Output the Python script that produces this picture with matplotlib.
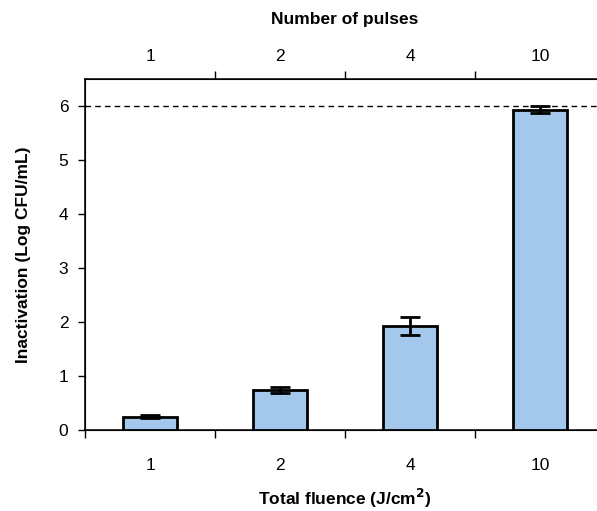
import numpy as np
from matplotlib import pyplot as plt

plt.rcParams['font.family'] = ['Liberation Sans', 'DejaVu Sans']

# data
fluence_labels = ['1', '2', '4', '10']
pulse_labels = ['1', '2', '4', '10']
inactivation = [0.25, 0.74, 1.92, 5.93]
errors = [0.02, 0.06, 0.17, 0.06]
detection_limit = 6

x = np.arange(len(inactivation))
fs = 12.5

fig = plt.figure(figsize=(5.97, 5.11), dpi=100)
ax = fig.add_axes([0.1424, 0.1585, 0.871, 0.687])

ax.bar(x, inactivation, width=0.42, color='#a3c8eb', edgecolor='black',
	linewidth=2, yerr=errors, capsize=7,
	error_kw=dict(elinewidth=2, capthick=2, ecolor='black'), zorder=3)
ax.axhline(detection_limit, color='black', linestyle=(0, (4, 3)), linewidth=1, zorder=2)

ax.set_xlim(-0.5, len(x) - 0.5)
ax.set_ylim(0, 6.5)
ax.set_yticks(range(0, 7))
ax.tick_params(axis='y', direction='out', length=5, width=1, labelsize=fs, pad=7)

ax.set_xticks(x)
ax.set_xticklabels(fluence_labels)
ax.set_xticks(np.arange(len(x) + 1) - 0.5, minor=True)
ax.tick_params(axis='x', which='major', length=0, labelsize=fs, pad=20)
ax.tick_params(axis='x', which='minor', direction='out', length=6, width=1)

ax.spines['right'].set_visible(False)
for s in ['left', 'bottom', 'top']:
	ax.spines[s].set_linewidth(1.1)

ax.set_ylabel('Inactivation (Log CFU/mL)', fontsize=fs, fontweight='bold', labelpad=20)
ax.set_xlabel('Total fluence (J/cm$^\\mathbf{2}$)', fontsize=fs, fontweight='bold', labelpad=10)

top = ax.twiny()
top.set_xlim(ax.get_xlim())
top.set_xticks(x)
top.set_xticklabels(pulse_labels)
top.set_xticks(np.arange(1, len(x)) - 0.5, minor=True)
top.tick_params(axis='x', which='major', length=0, labelsize=fs, pad=10.5)
top.tick_params(axis='x', which='minor', direction='out', length=6, width=1)
top.spines['right'].set_visible(False)
top.set_xlabel('Number of pulses', fontsize=fs, fontweight='bold', labelpad=18)

fig.savefig('out.png', dpi=100)
